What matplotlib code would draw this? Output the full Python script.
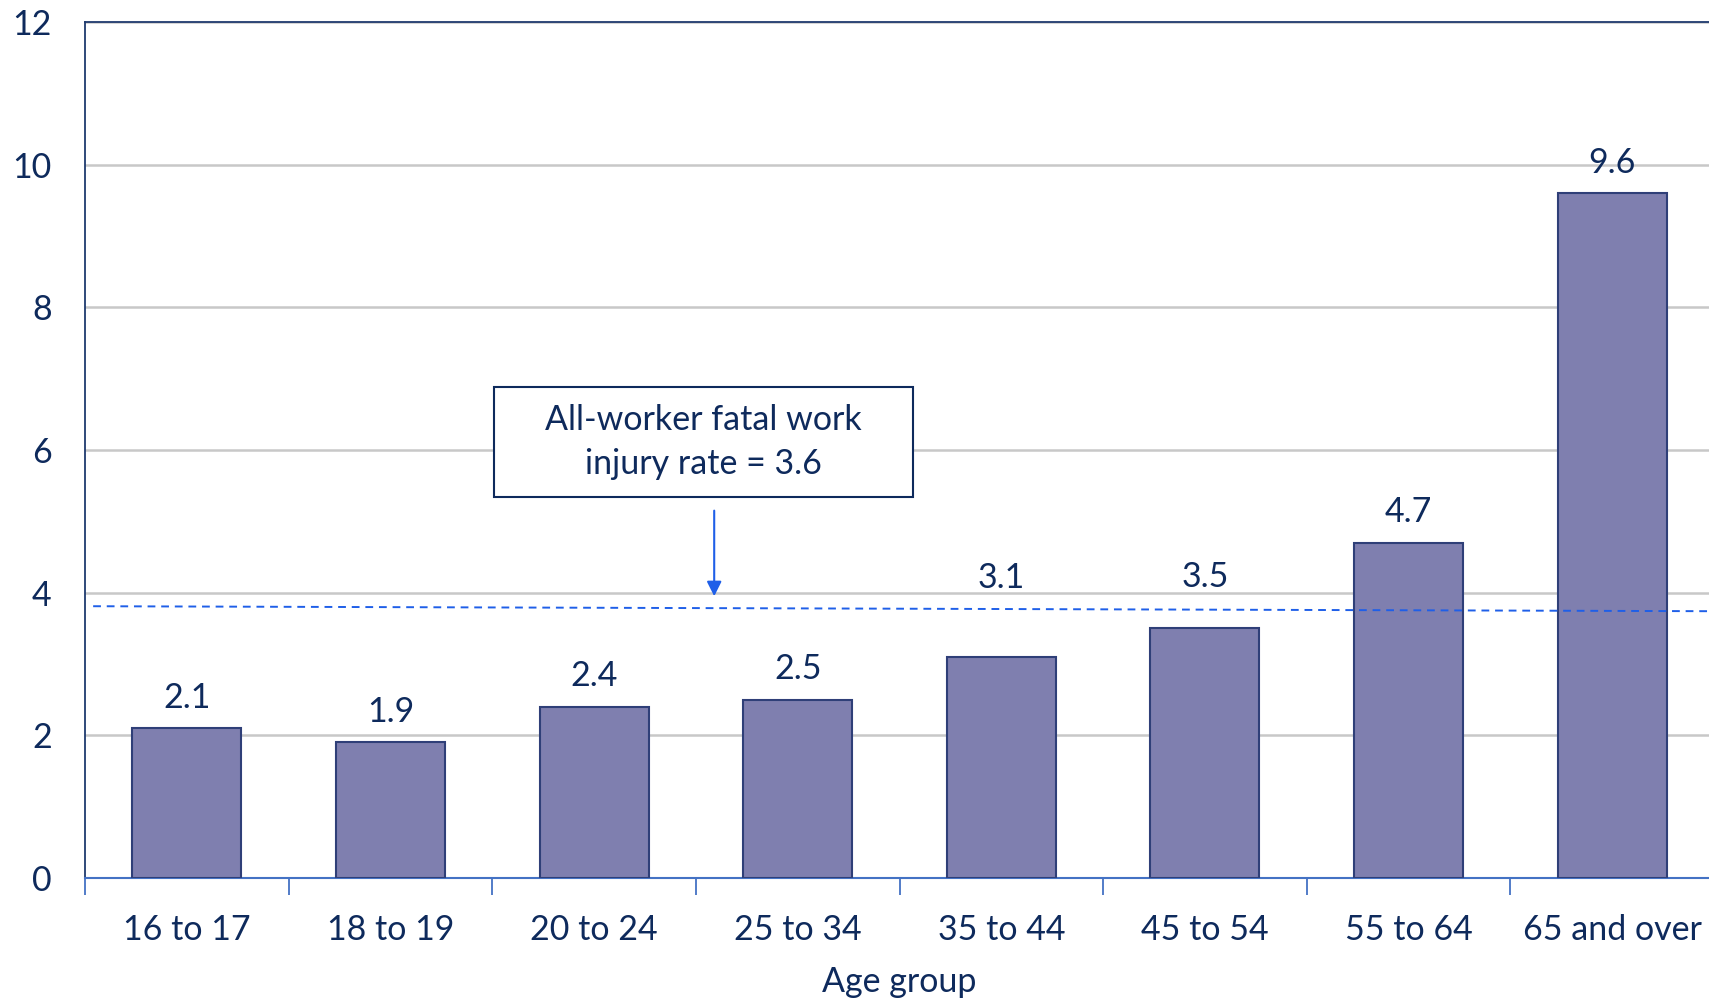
import numpy as np
from matplotlib import pyplot as plt
from matplotlib.patches import Rectangle

# Fatal work injury rate by age group
age_groups = ['16 to 17', '18 to 19', '20 to 24', '25 to 34',
              '35 to 44', '45 to 54', '55 to 64', '65 and over']
rates = [2.1, 1.9, 2.4, 2.5, 3.1, 3.5, 4.7, 9.6]
# a couple of labels were lifted above the reference line in the original
label_y = [None, None, None, None, 4.2, 4.22, None, None]

# all-worker reference line (drawn slightly sloped in the original) and its callout
ref_line_x = [-0.46, 7.5]
ref_line_y = [3.81, 3.74]
arrow_x = 2.59
arrow_y = [5.15, 3.95]
callout_text = 'All-worker fatal work\ninjury rate = 3.6'

navy = '#0E2A5C'
plt.rcParams['font.family'] = ['Lato', 'DejaVu Sans']
fs = 24.5

fig = plt.figure(figsize=(17.09, 9.99), dpi=100)
W, H = 1709, 999
ax = fig.add_axes([85 / W, 1 - 878 / H, (1714 - 85) / W, (878 - 22) / H])

x = np.arange(len(age_groups))
bars = ax.bar(x, rates, width=0.535, color='#7F7FAF', edgecolor='#2F3F78',
              linewidth=1.5, zorder=3)

for xi, v, ly in zip(x, rates, label_y):
    if ly is None:
        ax.annotate(f'{v:.1f}', (xi, v), xytext=(0, 22), textcoords='offset points',
                    ha='center', va='center', fontsize=fs, color=navy, zorder=4)
    else:
        ax.text(xi, ly, f'{v:.1f}', ha='center', va='center', fontsize=fs,
                color=navy, zorder=4)

ax.set_xlim(-0.5, len(age_groups) - 0.5)
ax.set_ylim(0, 12)
ax.set_yticks([0, 2, 4, 6, 8, 10, 12])
ax.yaxis.grid(True, color='#C8C8C8', linewidth=1.8, zorder=0)
ax.set_axisbelow(True)

ax.set_xticks(x)
ax.set_xticklabels(age_groups)
ax.set_xticks(np.arange(-0.5, len(age_groups), 1.0), minor=True)
ax.tick_params(axis='x', which='major', length=0, pad=26, labelsize=fs, labelcolor=navy)
ax.tick_params(axis='x', which='minor', length=12, width=1.3, color='#4472C4', direction='out')
ax.tick_params(axis='y', length=0, pad=24, labelsize=fs, labelcolor=navy)

for side in ['left', 'top']:
    ax.spines[side].set_color('#1F3A6E')
    ax.spines[side].set_linewidth(1.3)
ax.spines['right'].set_visible(False)
ax.spines['bottom'].set_color('#4472C4')
ax.spines['bottom'].set_linewidth(1.5)

ax.set_xlabel('Age group', fontsize=fs, color=navy, labelpad=14)

ax.plot(ref_line_x, ref_line_y, linestyle=(0, (4, 3)), color='#1F5FE8',
        linewidth=1.4, zorder=5, clip_on=False)
ax.annotate('', xy=(arrow_x, arrow_y[1]), xytext=(arrow_x, arrow_y[0]),
            arrowprops=dict(arrowstyle='-|>', color='#1F5FE8', lw=1.5,
                            mutation_scale=22, shrinkA=0, shrinkB=0), zorder=5)

# callout box
fig.patches.append(Rectangle((494 / W, 1 - 497 / H), (913 - 494) / W, (497 - 387) / H,
                             transform=fig.transFigure, facecolor='white',
                             edgecolor=navy, linewidth=1.5, zorder=6))
fig.text(703.5 / W, 1 - 442 / H, callout_text, ha='center', va='center',
         fontsize=fs, color=navy, linespacing=1.5, zorder=7)

fig.savefig('out.png', dpi=100)
